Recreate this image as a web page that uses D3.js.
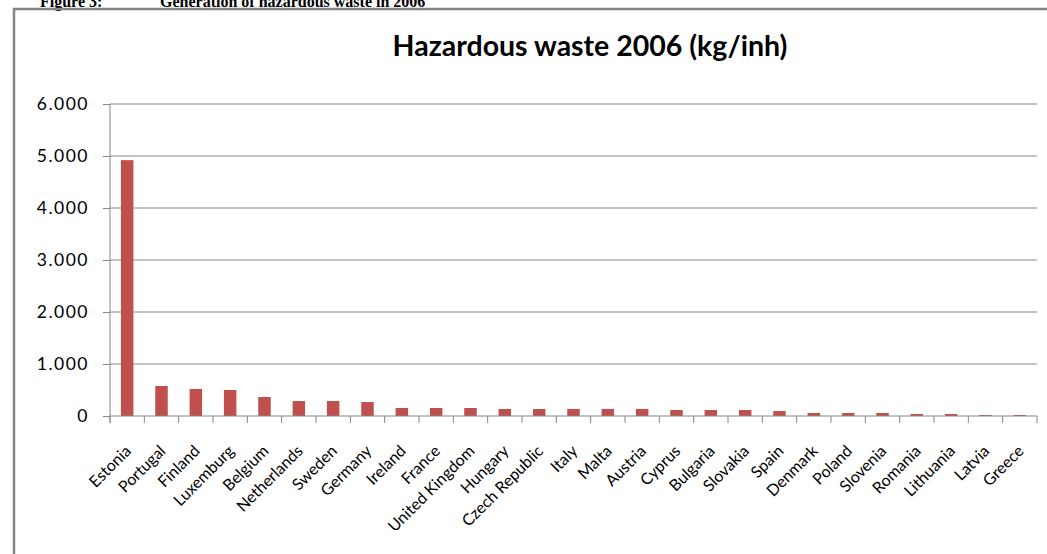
<!DOCTYPE html>
<html>
<head>
<meta charset="utf-8">
<script src="https://cdn.jsdelivr.net/npm/d3@7"></script>
<style>
  body { margin: 0; background: #fff; }
  svg { display: block; }
</style>
</head>
<body>
<div id="chart"></div>
<script>
// data
const countries = ["Estonia", "Portugal", "Finland", "Luxemburg", "Belgium", "Netherlands",
  "Sweden", "Germany", "Ireland", "France", "United Kingdom", "Hungary", "Czech Republic",
  "Italy", "Malta", "Austria", "Cyprus", "Bulgaria", "Slovakia", "Spain", "Denmark",
  "Poland", "Slovenia", "Romania", "Lithuania", "Latvia", "Greece"];
const waste = [4920, 577, 519, 500, 365, 288, 288, 269, 154, 154, 154, 135, 135,
  135, 135, 135, 115, 115, 115, 96, 58, 58, 58, 38, 38, 19, 19];
const yTicks = [0, 1000, 2000, 3000, 4000, 5000, 6000];

const W = 1047, H = 554;
const margin = {top: 104, right: 10, bottom: 138, left: 110},
      width = 1037 - margin.left,
      height = 416 - margin.top;

const svg = d3.select("#chart")
  .append("svg")
  .attr("width", W)
  .attr("height", H);

// document heading, partly cut at the top of the picture as in the scan
svg.append("text")
  .attr("x", 40).attr("y", 7)
  .style("font", "bold 16px 'Liberation Serif'")
  .text("Figure 3:");
svg.append("text")
  .attr("x", 160).attr("y", 7)
  .style("font", "bold 16px 'Liberation Serif'")
  .text("Generation of hazardous waste in 2006");

// chart frame (only top and left edges are in view)
svg.append("path")
  .attr("d", `M14,${H} V9 H${W}`)
  .attr("fill", "none")
  .attr("stroke", "#868686")
  .attr("stroke-width", 2.5);

svg.append("text")
  .attr("x", 590).attr("y", 56)
  .attr("text-anchor", "middle")
  .style("font", "bold 28.5px Lato")
  .attr("fill", "#000")
  .text("Hazardous waste 2006 (kg/inh)");

const g = svg.append("g")
  .attr("transform", `translate(${margin.left}, ${margin.top})`);

const x = d3.scaleBand()
  .domain(countries)
  .range([0, width])
  .paddingInner(0.636)
  .paddingOuter(0.318);

const y = d3.scaleLinear()
  .domain([0, 6000])
  .range([height, 0]);

const fmt = d3.formatLocale({decimal: ",", thousands: ".", grouping: [3], currency: ["", ""]}).format(",");

// gridlines
g.selectAll(".grid")
  .data(yTicks.filter(d => d > 0))
  .join("line")
  .attr("x1", 0).attr("x2", width)
  .attr("y1", d => y(d)).attr("y2", d => y(d))
  .attr("stroke", "#868686")
  .attr("stroke-width", 1);

// Y axis
const yAxis = g.append("g")
  .call(d3.axisLeft(y).tickValues(yTicks).tickFormat(fmt).tickSize(7).tickSizeOuter(0).tickPadding(14));
yAxis.select(".domain").attr("stroke", "#868686").attr("d", `M0,0V${height + 7}`);
yAxis.selectAll(".tick line").attr("stroke", "#868686");
yAxis.selectAll(".tick text")
  .attr("fill", "#000")
  .style("font", "17.5px Lato")
  .style("letter-spacing", "1.5px");

// bars
g.selectAll(".bar")
  .data(countries)
  .join("rect")
  .attr("x", d => x(d))
  .attr("width", x.bandwidth())
  .attr("y", (d, i) => y(waste[i]))
  .attr("height", (d, i) => height - y(waste[i]))
  .attr("fill", "#C0504D");

// X axis line and ticks at the category boundaries
g.append("line")
  .attr("x1", 0).attr("x2", width)
  .attr("y1", height).attr("y2", height)
  .attr("stroke", "#868686");
g.selectAll(".xtick")
  .data(d3.range(countries.length + 1))
  .join("line")
  .attr("x1", i => i * x.step()).attr("x2", i => i * x.step())
  .attr("y1", height).attr("y2", height + 7)
  .attr("stroke", "#868686");

// rotated category labels
g.selectAll(".xlabel")
  .data(countries)
  .join("text")
  .attr("text-anchor", "end")
  .attr("transform", d => `translate(${x(d) + x.bandwidth() / 2 + 5}, ${height + 36}) rotate(-45)`)
  .style("font", "16px Lato")
  .attr("fill", "#000")
  .text(d => d);
</script>
</body>
</html>
